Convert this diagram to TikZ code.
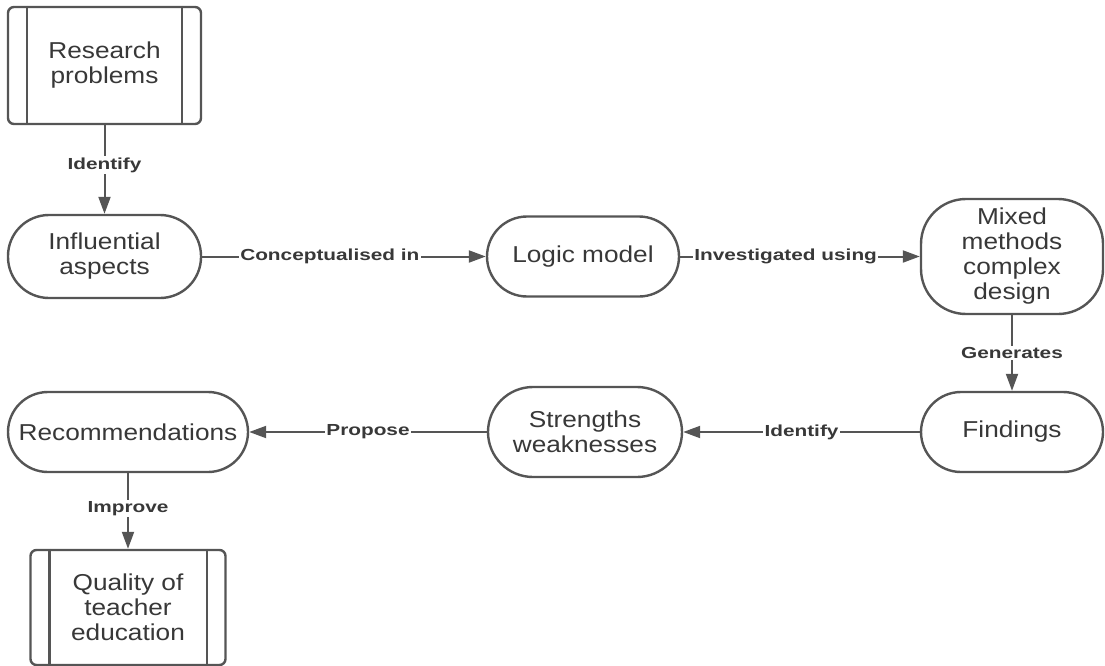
\documentclass[tikz,border=0pt]{standalone}
\usepackage{fontspec}
\setmainfont{Liberation Sans}[FakeStretch=1.14]
\newfontfamily\lblfont{Liberation Sans}[FakeStretch=1.3]
\usetikzlibrary{arrows.meta}
\definecolor{edgegray}{HTML}{555555}
\definecolor{textgray}{HTML}{383838}
\begin{document}
\begin{tikzpicture}[x=1pt,y=-1pt,
  box/.style={draw=edgegray, line width=2.4pt, align=center, text=textgray,
    font=\fontsize{23}{25}\selectfont, inner sep=0pt, fill=white},
  pill/.style={box, rounded corners=#1},
  process/.style={box, rounded corners=6pt},
  conn/.style={draw=edgegray, line width=2pt,
    -{Triangle[length=17pt,width=12pt]}},
  lbl/.style={fill=white, inner sep=1.5pt, text=textgray,
    font=\lblfont\bfseries\fontsize{16}{18}\selectfont}]
\useasboundingbox (0,0) rectangle (1105,666);

% nodes
\node[process, minimum width=193pt, minimum height=117pt] (rp) at (104.5,65.5) {Research\\problems};
\node[pill=41pt, minimum width=193pt, minimum height=83pt] (ia) at (104.5,256.5) {Influential\\aspects};
\node[pill=40pt, minimum width=192pt, minimum height=80pt] (lm) at (583,256.5) {Logic model};
\node[pill=45pt, minimum width=182pt, minimum height=115pt] (mm) at (1012,256.5) {Mixed\\methods\\complex\\design};
\node[pill=40pt, minimum width=182pt, minimum height=80pt] (fi) at (1012,432) {Findings};
\node[pill=45pt, minimum width=194pt, minimum height=90pt] (sw) at (585,432) {Strengths\\weaknesses};
\node[pill=40pt, minimum width=240pt, minimum height=80pt] (rc) at (128,432) {Recommendations};
\node[process, minimum width=195pt, minimum height=115pt] (qt) at (128,607.5) {Quality of\\teacher\\education};

% inner bars of the process boxes
\foreach \n in {rp,qt}{
  \draw[edgegray, line width=2.4pt] ([xshift=20pt]\n.north west) -- ([xshift=20pt]\n.south west);
  \draw[edgegray, line width=2.4pt] ([xshift=-20pt]\n.north east) -- ([xshift=-20pt]\n.south east);
}

% connectors
\draw[conn] (rp) -- node[lbl, pos=0.45] {Identify} (ia);
\draw[conn] (ia) -- node[lbl, pos=0.45] {Conceptualised in} (lm);
\draw[conn] (lm) -- node[lbl, pos=0.44] {Investigated using} (mm);
\draw[conn] (mm) -- node[lbl, pos=0.5] {Generates} (fi);
\draw[conn] (fi) -- node[lbl, pos=0.5] {Identify} (sw);
\draw[conn] (sw) -- node[lbl, pos=0.5] {Propose} (rc);
\draw[conn] (rc) -- node[lbl, pos=0.47] {Improve} (qt);
\end{tikzpicture}
\end{document}
